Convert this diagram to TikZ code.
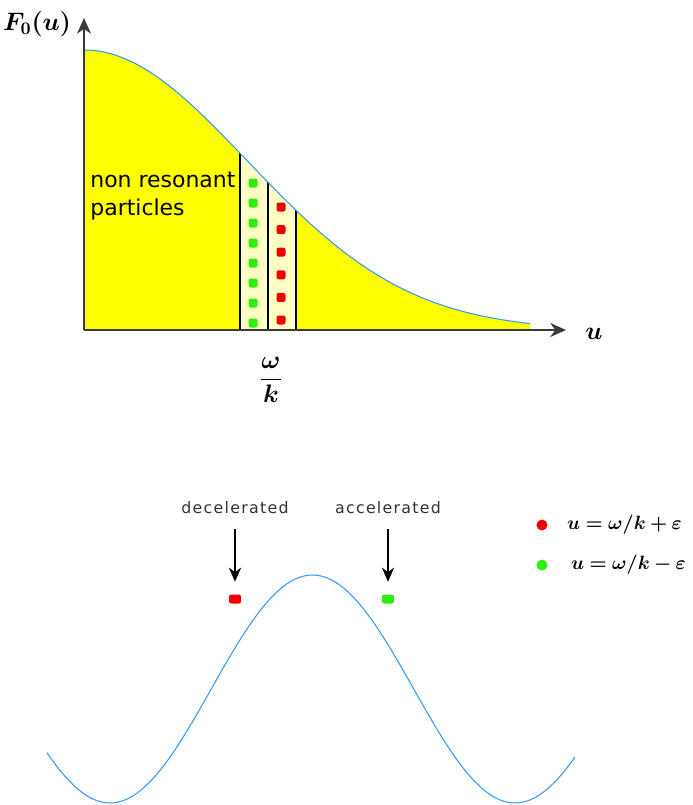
\documentclass[tikz,border=0pt]{standalone}
\usepackage[no-math]{fontspec}
\usepackage{bm}
\setmainfont{DejaVu Sans}
\usetikzlibrary{arrows.meta, positioning}
\definecolor{fillyellow}{HTML}{FFFF00}
\definecolor{stripyellow}{HTML}{FFFFC4}
\definecolor{curveblue}{HTML}{3399FF}
\definecolor{axisgray}{HTML}{3A3A3A}
\definecolor{dotred}{HTML}{F20000}
\definecolor{dotgreen}{HTML}{2EEE10}
\newcommand{\labelsize}{\fontsize{14}{16}\selectfont}
\newcommand{\legendsize}{\fontsize{11}{13}\selectfont}
\newcommand{\textsizebig}{\fontsize{12.5}{16}\selectfont}
\newcommand{\tagsize}{\fontsize{9}{11}\selectfont\addfontfeature{LetterSpace=8}}
\newcommand{\fdist}[1]{330-280*exp(-((#1-84)/230)^2)}

\begin{document}
\begin{tikzpicture}[x=0.02cm, y=-0.02cm,
      axis/.style={line width=1pt, draw=axisgray, -{Stealth[length=9pt, width=8pt]}},
      density/.style={draw=curveblue, line width=0.6pt},
      wall/.style={line width=0.8pt},
      pdot/.style={rectangle, rounded corners=1.2pt, minimum size=0.18cm, inner sep=0pt},
      ldot/.style={circle, minimum size=0.22cm, inner sep=0pt},
      tag/.style={font=\tagsize, text=black!80},
      >={Stealth[length=8pt, width=7pt]}
    ]
      \useasboundingbox (0,0) rectangle (693,805);
      % distribution function
      \fill[fillyellow] (84,330) -- plot[domain=84:530, samples=80] (\x,{\fdist{\x}}) -- (530,330) -- cycle;
      \fill[stripyellow] (240,330) -- plot[domain=240:296, samples=15] (\x,{\fdist{\x}}) -- (296,330) -- cycle;
      \foreach \xs in {240,268,296}
        \draw[wall] (\xs,330) -- (\xs,{\fdist{\xs}});
      \draw[density] plot[domain=84:530, samples=80] (\x,{\fdist{\x}});
      \coordinate (origin) at (84,330);
      \coordinate (ytop) at (84,18);
      \coordinate (xend) at (566,330);
      \draw[axis] (origin) -- (ytop);
      \draw[axis] (origin) -- (xend);
      \node[font=\labelsize] (flabel) at (37,24) {$\bm{F_0(u)}$};
      \node[font=\labelsize] (ulabel) at (594,334) {$\bm{u}$};
      \node[font=\fontsize{15}{17}\selectfont] (wk) at (271,380) {$\displaystyle\frac{\bm{\omega}}{\bm{k}}$};
      \node[anchor=north west, align=left, inner sep=0pt, font=\textsizebig]
        (nonres) at (90,172) {non resonant\\particles};
      % resonant particles
      \foreach \yy [count=\i] in {183,203,...,323}
        \node[pdot, fill=dotgreen] (g\i) at (253,\yy) {};
      \foreach \yy [count=\i] in {207,229.6,...,321}
        \node[pdot, fill=dotred] (r\i) at (281,\yy) {};
      % wave frame
      \node[tag] (dec) at (235,508) {decelerated};
      \node[tag] (acc) at (388,508) {accelerated};
      \node[pdot, minimum width=0.24cm, fill=dotred] (rdot) at (235,599) {};
      \node[pdot, minimum width=0.24cm, fill=dotgreen] (gdot) at (388,599) {};
      \draw[->, line width=0.8pt, shorten <=0.18cm, shorten >=0.25cm] (dec) -- (rdot);
      \draw[->, line width=0.8pt, shorten <=0.18cm, shorten >=0.25cm] (acc) -- (gdot);
      \draw[density] plot[domain=47:575, samples=120] (\x,{689+114*cos((\x-110)/405*360)});
      % legend
      \node[ldot, fill=dotred] (lred) at (542,525) {};
      \node[ldot, fill=dotgreen] (lgreen) at (542,565) {};
      \node[inner sep=0pt, font=\legendsize, right=0.38cm of lred]
        (lredtxt) {$\bm{u=\omega/k+\varepsilon}$};
      \node[inner sep=0pt, font=\legendsize, right=0.46cm of lgreen]
        (lgreentxt) {$\bm{u=\omega/k-\varepsilon}$};
    \end{tikzpicture}
\end{document}
